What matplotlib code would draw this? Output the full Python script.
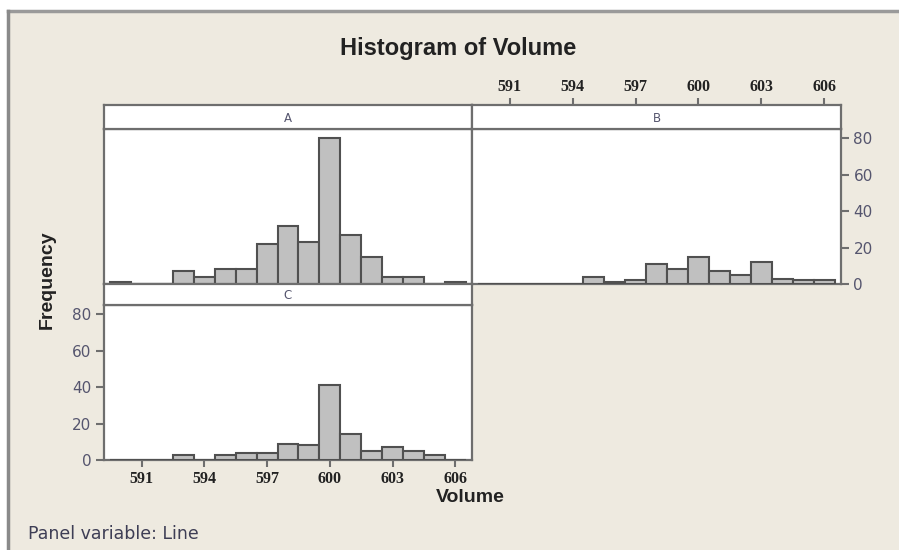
import numpy as np
import matplotlib.pyplot as plt
from matplotlib.lines import Line2D

# Bin centres (Volume) and counts per panel
volume = [590, 591, 592, 593, 594, 595, 596, 597, 598, 599, 600, 601, 602, 603, 604, 605, 606]
freq_a = [1, 0, 0, 7, 4, 8, 8, 22, 32, 23, 80, 27, 15, 4, 4, 0, 1]
freq_b = [0, 0, 0, 0, 0, 4, 1, 2, 11, 8, 15, 7, 5, 12, 3, 2, 2]
freq_c = [0, 0, 0, 3, 0, 3, 4, 4, 9, 8, 41, 14, 5, 7, 5, 3, 0]
x_ticks = [591, 594, 597, 600, 603, 606]
y_ticks = [0, 20, 40, 60, 80]

W, H = 899, 550
bg = '#EEEAE0'
edge = '#6E6E6E'
lab = '#55556E'
bar_fill = '#C0C0C0'
bar_edge = '#505050'

fig = plt.figure(figsize=(W / 100, H / 100), dpi=100)
fig.patch.set_facecolor(bg)

# white margin outside the window frame, then gray frame (top and left)
fig.patches.append(plt.Rectangle((0, 1 - 11 / H), 1, 11 / H, transform=fig.transFigure,
                                 facecolor='white', edgecolor='none', zorder=-10))
fig.patches.append(plt.Rectangle((0, 0), 8 / W, 1, transform=fig.transFigure,
                                 facecolor='white', edgecolor='none', zorder=-10))
fig.lines.append(Line2D([8 / W, 1], [1 - 11 / H, 1 - 11 / H], transform=fig.transFigure,
                        color='#9A9A9A', lw=2.5, zorder=-5))
fig.lines.append(Line2D([8 / W, 8 / W], [0, 1 - 11 / H], transform=fig.transFigure,
                        color='#8A8A8A', lw=2.5, zorder=-5))


def px_axes(x0, y0, x1, y1):
    # axes from pixel box (top-left origin)
    return fig.add_axes([x0 / W, 1 - y1 / H, (x1 - x0) / W, (y1 - y0) / H])


def style(ax):
    ax.set_facecolor('white')
    for s in ax.spines.values():
        s.set_color(edge)
        s.set_linewidth(1.6)
    ax.set_xticks([])
    ax.set_yticks([])


def strip(x0, y0, x1, y1, name):
    ax = px_axes(x0, y0, x1, y1)
    style(ax)
    ax.text(0.5, 0.45, name, ha='center', va='center', fontsize=8.5, color=lab,
            family='DejaVu Sans', transform=ax.transAxes)
    return ax


def hist(ax, counts):
    ax.bar(volume, counts, width=1.0, color=bar_fill, edgecolor=bar_edge, linewidth=1.5, zorder=3)
    ax.set_xlim(589.2, 606.8)
    ax.set_ylim(0, 85)


xl, xm, xr = 104, 472, 841
xfont = dict(family='Liberation Serif', weight='bold', fontsize=11.5)

# Panel A
ax_a = px_axes(xl, 129, xm, 284)
style(ax_a)
hist(ax_a, freq_a)
strip(xl, 105, xm, 129, 'A')

# Panel B
ax_b = px_axes(xm, 129, xr, 284)
style(ax_b)
hist(ax_b, freq_b)
ax_b.yaxis.tick_right()
ax_b.set_yticks(y_ticks)
ax_b.tick_params(axis='y', length=6, width=1.5, color=edge, labelcolor=lab, labelsize=11, pad=3)
strip_b = strip(xm, 105, xr, 129, 'B')
strip_b.set_xlim(589.2, 606.8)
strip_b.xaxis.tick_top()
strip_b.set_xticks(x_ticks)
strip_b.set_xticklabels([str(v) for v in x_ticks], **xfont)
strip_b.tick_params(axis='x', length=5, width=1.5, color=edge, labelcolor='#222222', pad=2)

# Panel C
ax_c = px_axes(xl, 305, xm, 460)
style(ax_c)
hist(ax_c, freq_c)
ax_c.set_yticks(y_ticks)
ax_c.tick_params(axis='y', length=6, width=1.5, color=edge, labelcolor=lab, labelsize=11, pad=3)
ax_c.set_xticks(x_ticks)
ax_c.set_xticklabels([str(v) for v in x_ticks], **xfont)
ax_c.tick_params(axis='x', length=5, width=1.5, color=edge, labelcolor='#222222', pad=3)
strip(xl, 284, xm, 305, 'C')

# Titles and labels
fig.text(458 / W, 1 - 48 / H, 'Histogram of Volume', ha='center', va='center',
         fontsize=17, weight='bold', family='Liberation Sans', color='#222222')
fig.text(470 / W, 1 - 498 / H, 'Volume', ha='center', va='center',
         fontsize=14, weight='bold', family='Liberation Sans', color='#222222')
fig.text(47 / W, 1 - 280 / H, 'Frequency', ha='center', va='center', rotation=90,
         fontsize=14, weight='bold', family='Liberation Sans', color='#222222')
fig.text(28 / W, 1 - 534 / H, 'Panel variable: Line', ha='left', va='center',
         fontsize=12.5, family='DejaVu Sans', color='#3E3E55')

fig.savefig('out.png', dpi=100, facecolor=fig.get_facecolor())
